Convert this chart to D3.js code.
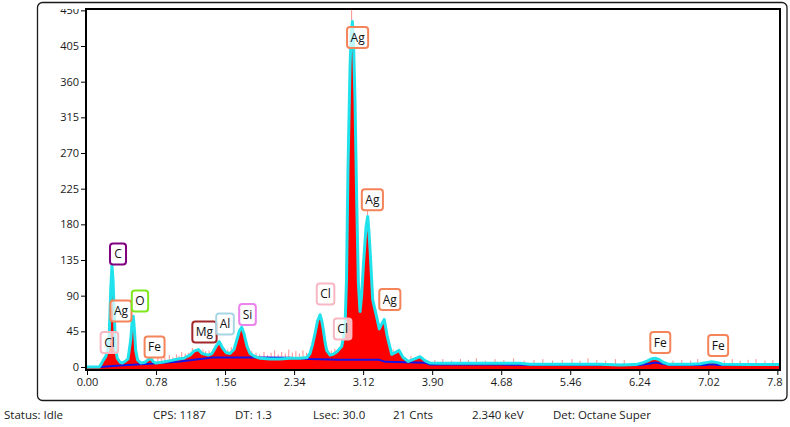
<!DOCTYPE html>
<html>
<head>
<meta charset="UTF-8">
<title>EDS spectrum</title>
<style>
  body { margin: 0; background: #fff; }
  svg text { font-family: "Open Sans", "Noto Sans", sans-serif; }
</style>
</head>
<body>
<div id="chart"></div>
<script src="https://d3js.org/d3.v7.min.js"></script>
<script>
// spectrum: energy (keV) and counts
var energy = [0.000, 0.136, 0.155, 0.181, 0.211, 0.237, 0.249, 0.260, 0.268, 0.282, 0.294, 0.305, 0.324, 0.342, 0.373, 0.399, 0.429, 0.463, 0.494, 0.508,
  0.523, 0.537, 0.550, 0.571, 0.607, 0.655, 0.689, 0.720, 0.746, 0.776, 0.847, 0.946, 1.028, 1.096, 1.127, 1.164, 1.209, 1.258, 1.299, 1.371,
  1.412, 1.458, 1.495, 1.531, 1.571, 1.616, 1.661, 1.695, 1.723, 1.748, 1.774, 1.808, 1.842, 1.898, 1.955, 2.068, 2.181, 2.294, 2.407, 2.486,
  2.520, 2.548, 2.576, 2.605, 2.633, 2.653, 2.670, 2.689, 2.708, 2.746, 2.780, 2.821, 2.847, 2.878, 2.898, 2.915, 2.932, 2.949, 2.972, 2.985,
  2.998, 3.011, 3.028, 3.047, 3.066, 3.085, 3.103, 3.122, 3.153, 3.172, 3.186, 3.198, 3.228, 3.273, 3.303, 3.333, 3.359, 3.390, 3.443, 3.480,
  3.525, 3.571, 3.631, 3.695, 3.763, 3.819, 3.876, 3.989, 4.893, 5.006, 5.797, 6.023, 6.203, 6.271, 6.328, 6.373, 6.418, 6.463, 6.508, 6.565,
  6.814, 6.927, 6.994, 7.059, 7.124, 7.181, 7.497, 7.831];
var counts = [0, 0, 2.5, 8, 13, 22, 34, 70, 97, 128, 110, 76, 22, 11, 6, 5, 7, 10, 34, 55,
  64, 45, 21, 9, 5, 6, 9, 11, 7, 5, 6, 8, 10, 11, 13, 15, 20, 22, 17, 15,
  17, 26, 32, 24, 18, 17, 22, 35, 46, 50, 42, 26, 17, 13, 11, 10, 10, 11, 11, 12,
  17, 28, 42, 58, 66, 58, 47, 32, 21, 15, 16, 19, 22, 26, 38, 50, 110, 250, 379, 420,
  436, 410, 337, 211, 106, 70, 90, 127, 177, 190, 170, 148, 85, 63, 48, 55, 60, 40, 16, 18,
  21, 12, 7, 10, 13, 8, 5, 4.6, 4.6, 3.5, 3.5, 2.5, 3, 5, 7.5, 10, 11, 9.5, 6, 3.5,
  3.5, 4, 5.5, 6.5, 5.5, 3.5, 3, 3];

// background (blue line)
var bgEnergy = [0, 0.14, 0.37, 0.71, 1.05, 1.42, 1.99, 2.29, 2.52, 2.85, 3.30, 3.37, 3.82, 3.87, 4.66, 6.24, 6.35, 6.42, 6.50, 6.60, 6.98, 7.06, 7.14, 7.83];
var bgCounts = [0, 0, 2, 4, 7, 12, 12, 11.5, 10, 9, 9, 6.5, 5.5, 3, 3, 2.5, 4, 5.5, 4, 2.5, 2.5, 3.5, 2.5, 2.5];

// raw channel spikes sticking out of the red spectrum
var spikeEnergy = [0.80, 0.84, 0.88, 0.93, 0.97, 1.01, 1.04, 1.07, 1.11, 1.15, 1.19, 1.31, 1.34, 1.38, 1.43, 1.55, 1.59, 1.63, 1.67, 1.86,
  1.91, 1.95, 2.00, 2.04, 2.08, 2.12, 2.16, 2.20, 2.24, 2.28, 2.32, 2.36, 2.40, 2.44, 2.48, 2.76, 2.80, 2.99, 3.17, 3.46,
  3.60, 3.66, 3.72, 3.80, 3.93, 4.02, 4.12, 4.22, 4.31, 4.40, 4.50, 4.61, 4.71, 4.82, 4.94, 5.05, 5.15, 5.26, 5.37, 5.48,
  5.57, 5.66, 5.76, 5.86, 5.97, 6.07, 6.62, 6.72, 6.82, 6.90, 7.20, 7.29, 7.38, 7.47, 7.56, 7.66, 7.75];
var spikeCounts = [12, 10, 13, 15, 12, 16, 14, 19, 17, 18, 24, 22, 20, 21, 23, 24, 22, 25, 27, 20,
  18, 16, 19, 15, 18, 21, 16, 19, 17, 22, 18, 20, 17, 21, 18, 21, 23, 452, 197, 22,
  12, 14, 12, 11, 9, 10, 8, 10, 9, 11, 8, 10, 9, 11, 8, 9, 10, 8, 9, 10,
  8, 11, 9, 8, 10, 9, 8, 9, 8, 10, 8, 10, 8, 9, 10, 8, 9];

// element markers
var peakNames = ["Cl", "Ag", "C", "O", "Fe", "Mg", "Al", "Si", "Cl", "Cl", "Ag", "Ag", "Ag", "Fe", "Fe"];
var peakEnergy = [0.18, 0.31, 0.277, 0.525, 0.69, 1.254, 1.486, 1.740, 2.622, 2.815, 2.984, 3.151, 3.348, 6.404, 7.058];
var peakLabelAt = [31, 70.7, 142.6, 83.3, 25.2, 44.2, 54.3, 66.2, 92.1, 47.9, 415.7, 211, 85, 30.9, 27.1];

var yTicks = [0, 45, 90, 135, 180, 225, 270, 315, 360, 405, 450];
var xTicks = [0, 0.78, 1.56, 2.34, 3.12, 3.90, 4.68, 5.46, 6.24, 7.02, 7.80];

var statusText = ["Status: Idle", "CPS: 1187", "DT: 1.3", "Lsec: 30.0", "21 Cnts", "2.340 keV", "Det: Octane Super"];
var statusX = [4, 153, 235, 313, 393, 472, 553];

var elementColor = {
  C: "#800080", O: "#7ee81e", Mg: "#a0282a", Al: "#a9d6e5", Si: "#ec82ec",
  Cl: "#f7b7c3", Ag: "#f4845a", Fe: "#f4845a"
};

var width = 790, height = 427;
var plot = { left: 86, right: 780, top: 9, bottom: 370 };

var svg = d3.select("#chart").append("svg")
  .attr("width", width).attr("height", height);

var x = d3.scaleLinear().domain([0, 7.83]).range([87, plot.right]);
var y = d3.scaleLinear().domain([-3.8, 451.7]).range([plot.bottom, plot.top]);

var defs = svg.append("defs");
defs.append("clipPath").attr("id", "plotClip").append("rect")
  .attr("x", plot.left).attr("y", plot.top)
  .attr("width", plot.right - plot.left).attr("height", plot.bottom - plot.top);
defs.append("clipPath").attr("id", "boxClip").append("rect")
  .attr("x", 38).attr("y", plot.top).attr("width", 745).attr("height", 390);

// outer rounded panel
svg.append("rect")
  .attr("x", 37.5).attr("y", 2.5).attr("width", 749.5).attr("height", 398)
  .attr("rx", 5).attr("fill", "none").attr("stroke", "#1a1a1a").attr("stroke-width", 1.3);

var spec = svg.append("g").attr("clip-path", "url(#plotClip)");

var pts = energy.map(function(e, i) { return [e, counts[i]]; });

// spikes first so the red fill hides their lower part
spec.selectAll("line.spike")
  .data(spikeEnergy.map(function(e, i) { return [e, spikeCounts[i]]; }))
  .join("line")
  .attr("class", "spike")
  .attr("x1", function(d) { return x(d[0]); })
  .attr("x2", function(d) { return x(d[0]); })
  .attr("y1", y(0))
  .attr("y2", function(d) { return y(d[1]); })
  .attr("stroke", "#ff6a6a")
  .attr("stroke-opacity", 0.75)
  .attr("stroke-width", 1);

spec.append("path")
  .datum(pts)
  .attr("fill", "#ff0000")
  .attr("d", d3.area()
    .x(function(d) { return x(d[0]); })
    .y0(plot.bottom)
    .y1(function(d) { return y(d[1]); }));

spec.append("path")
  .datum(bgEnergy.map(function(e, i) { return [e, bgCounts[i]]; }))
  .attr("fill", "none")
  .attr("stroke", "#1414e6")
  .attr("stroke-width", 2)
  .attr("d", d3.line()
    .x(function(d) { return x(d[0]); })
    .y(function(d) { return y(d[1]); }));

spec.append("path")
  .datum(pts)
  .attr("fill", "none")
  .attr("stroke", "#1fe2ec")
  .attr("stroke-width", 3)
  .attr("stroke-linejoin", "round")
  .attr("d", d3.line()
    .x(function(d) { return x(d[0]); })
    .y(function(d) { return y(d[1]); }));

// axes
var axes = svg.append("g").attr("clip-path", "url(#boxClip)");

var yAxis = axes.append("g")
  .attr("transform", "translate(" + (plot.left - 1) + ",0)")
  .call(d3.axisLeft(y).tickValues(yTicks).tickSize(4).tickPadding(2));

var xAxis = axes.append("g")
  .attr("transform", "translate(0," + (plot.bottom + 1) + ")")
  .call(d3.axisBottom(x).tickValues(xTicks).tickFormat(d3.format(".2f")).tickSize(4).tickPadding(3));

[yAxis, xAxis].forEach(function(a) {
  a.select(".domain").remove();
  a.selectAll("line").attr("stroke", "#000");
  a.selectAll("text").attr("fill", "#1a1a1a").style("font-size", "11px");
});

// plot frame
svg.append("rect")
  .attr("x", plot.left).attr("y", plot.top)
  .attr("width", plot.right - plot.left).attr("height", plot.bottom - plot.top)
  .attr("fill", "none").attr("stroke", "#000").attr("stroke-width", 2);

// element labels
var labels = svg.selectAll("g.peak")
  .data(peakNames.map(function(n, i) { return { name: n, e: peakEnergy[i], c: peakLabelAt[i] }; }))
  .join("g")
  .attr("class", "peak")
  .attr("transform", function(d) { return "translate(" + (x(d.e) + 6.5) + "," + y(d.c) + ")"; });

labels.each(function(d) {
  var g = d3.select(this);
  var box = g.append("rect");
  var t = g.append("text")
    .attr("text-anchor", "middle")
    .attr("dy", "0.35em")
    .style("font-size", "12px")
    .attr("fill", "#111")
    .text(d.name);
  var w = Math.max(16, t.node().getComputedTextLength() + 7);
  box.attr("x", -w / 2).attr("y", -10.5).attr("width", w).attr("height", 21)
    .attr("rx", 3)
    .attr("fill", "#fff").attr("fill-opacity", 0.72)
    .attr("stroke", elementColor[d.name]).attr("stroke-width", 2);
});

// status bar
svg.selectAll("text.status")
  .data(statusText)
  .join("text")
  .attr("class", "status")
  .attr("x", function(d, i) { return statusX[i]; })
  .attr("y", 419)
  .attr("fill", "#1a1a1a")
  .style("font-size", "11.5px")
  .text(function(d) { return d; });
</script>
</body>
</html>
